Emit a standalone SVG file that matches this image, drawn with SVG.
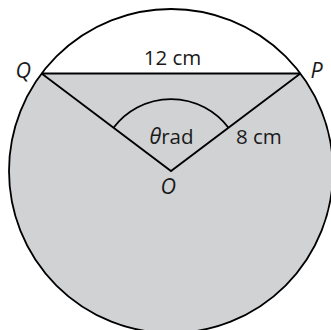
<svg xmlns="http://www.w3.org/2000/svg" width="331" height="330" viewBox="0 0 331 330">
<style>
.ln{fill:none;stroke:#000;stroke-width:1.8;stroke-linejoin:miter}
.t{font-family:"Open Sans","Noto Sans","Liberation Sans",sans-serif;font-size:20.5px;fill:#1a1a1a}
.i{font-style:italic;font-size:21.5px}
</style>
<rect width="331" height="330" fill="#fff"/>
<g id="shaded">
<path d="M41.6,73.5 A162,162 0 1 0 300.4,73.5 Z" fill="#d1d2d4"/>
</g>
<g id="circle">
<circle cx="171" cy="171" r="162" class="ln"/>
</g>
<g id="connectors">
<line x1="41.6" y1="73.5" x2="300.4" y2="73.5" class="ln"/>
<polyline points="41.6,73.5 171,171 300.4,73.5" class="ln"/>
<path d="M113.5,127.7 A72,72 0 0 1 228.5,127.7" class="ln"/>
</g>
<g id="labels">
<text class="t" x="172.5" y="64.5" text-anchor="middle">12 cm</text>
<text class="t i" x="15.5" y="77.5">Q</text>
<text class="t i" x="310.5" y="77.5">P</text>
<text class="t" x="149.5" y="143.5"><tspan class="i">θ</tspan>rad</text>
<text class="t" x="236" y="144">8 cm</text>
<text class="t i" x="160.5" y="194">O</text>
</g>
</svg>
